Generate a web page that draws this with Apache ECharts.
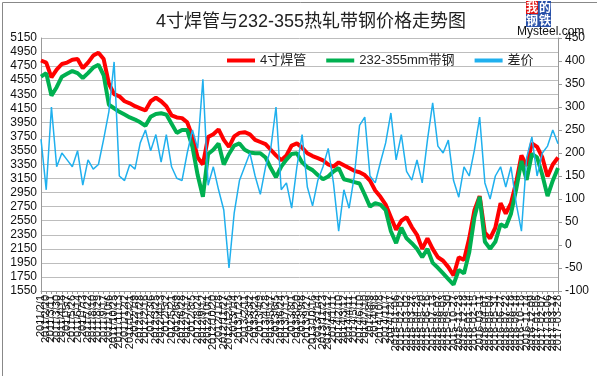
<!DOCTYPE html>
<html>
<head>
<meta charset="utf-8">
<title>4寸焊管与232-355热轧带钢价格走势图</title>
<script src="https://cdn.jsdelivr.net/npm/echarts@6/dist/echarts.min.js"></script>
<style>
  html, body { margin: 0; padding: 0; background: #fff; }
  #chart { width: 597px; height: 376px; }
</style>
</head>
<body>
<div id="chart"></div>
<script>
// 日期（类目轴）
const dates = [
  '2011/2/1', '2011/2/20', '2011/3/11', '2011/3/30', '2011/4/18', '2011/5/7', '2011/5/26', '2011/6/14', '2011/7/3', '2011/7/22',
  '2011/8/10', '2011/8/29', '2011/9/17', '2011/10/6', '2011/10/25', '2011/11/13', '2011/12/2', '2011/12/21', '2012/1/9', '2012/1/28',
  '2012/2/16', '2012/3/6', '2012/3/25', '2012/4/13', '2012/5/2', '2012/5/21', '2012/6/9', '2012/6/28', '2012/7/17', '2012/8/5',
  '2012/8/24', '2012/9/12', '2012/10/1', '2012/10/20', '2012/11/8', '2012/11/27', '2012/12/16', '2013/1/4', '2013/1/23', '2013/2/11',
  '2013/3/2', '2013/3/21', '2013/4/9', '2013/4/28', '2013/5/17', '2013/6/5', '2013/6/24', '2013/7/13', '2013/8/1', '2013/8/20',
  '2013/9/8', '2013/9/27', '2013/10/16', '2013/11/4', '2013/11/23', '2013/12/12', '2014/1/11', '2014/2/10', '2014/3/12', '2014/4/11',
  '2014/5/11', '2014/6/10', '2014/7/10', '2014/8/9', '2014/9/8', '2014/10/8', '2014/11/7', '2014/12/7', '2015-01-06', '2015-02-02',
  '2015-03-02', '2015-03-27', '2015-04-23', '2015-05-20', '2015-06-16', '2015-07-13', '2015-08-07', '2015-09-03', '2015-09-30', '2015-10-27',
  '2015-11-23', '2015-12-18', '2016-01-14', '2016-02-15', '2016-03-11', '2016-04-07', '2016-05-04', '2016-05-31', '2016-06-27', '2016-07-22',
  '2016-08-18', '2016-09-14', '2016-10-18', '2016-11-14', '2016-12-09', '2017-01-05', '2017-02-07', '2017-03-06', '2017-03-17', '2017-03-28'
]

// 4寸焊管
const weldedPipe = [
  4830, 4800, 4590, 4700, 4780, 4800, 4840, 4850, 4720, 4800,
  4900, 4940, 4850, 4500, 4350, 4320, 4250, 4220, 4180, 4150,
  4120, 4250, 4300, 4250, 4180, 4050, 4020, 4010, 3950, 3750,
  3450, 3350, 3740, 3780, 3850, 3700, 3600, 3750, 3800, 3810,
  3780, 3700, 3670, 3640, 3560, 3480, 3410, 3480, 3620, 3650,
  3590, 3510, 3470, 3440, 3410, 3350, 3320, 3380, 3340, 3300,
  3260, 3240, 3200, 3120, 2980, 2890, 2780, 2600, 2420, 2550,
  2600, 2460, 2350, 2150, 2300, 2150, 2030, 1980, 1890, 1770,
  2030, 1990, 2300, 2700, 2900, 2380, 2300, 2450, 2800, 2650,
  2800, 3100, 3480, 3330, 3650, 3600, 3450, 3180, 3350, 3450
]

// 232-355mm带钢
const stripSteel = [
  4600, 4650, 4330, 4450, 4600, 4640, 4680, 4650, 4580, 4650,
  4730, 4770, 4620, 4200, 4150, 4100, 4060, 4020, 3990, 3950,
  3900, 4030, 4070, 4080, 4060, 3930, 3800, 3840, 3840, 3600,
  3200, 2890, 3500, 3560, 3650, 3350, 3500, 3620, 3650, 3560,
  3520, 3510, 3510, 3450, 3300, 3170, 3320, 3420, 3500, 3510,
  3380, 3310, 3270, 3200, 3140, 3180, 3250, 3300, 3140, 3120,
  3100, 3080, 2920, 2750, 2800, 2780, 2700, 2400, 2230, 2450,
  2300, 2230, 2150, 2030, 2150, 1950, 1880, 1800, 1720, 1640,
  1850, 1800, 2100, 2600, 2890, 2250, 2150, 2250, 2500, 2460,
  2650, 3000, 3400, 3130, 3500, 3450, 3200, 2900, 3120, 3300
]

// 差价（右轴）
const spread = [
  230, 120, 300, 170, 200, 185, 170, 205, 130, 185,
  165, 175, 230, 290, 398, 150, 140, 175, 165, 222,
  250, 205, 240, 180, 240, 170, 145, 140, 200, 250,
  210, 360, 130, 170, 120, 76, -50, 70, 140, 170,
  200, 150, 110, 170, 210, 300, 120, 135, 80, 170,
  240, 126, 85, 140, 170, 210, 135, 30, 120, 80,
  150, 260, 278, 150, 135, 180, 222, 287, 185, 240,
  160, 141, 185, 135, 228, 309, 215, 200, 228, 140,
  104, 170, 150, 207, 278, 135, 100, 150, 170, 126,
  170, 90, 30, 190, 235, 150, 200, 215, 250, 220
]

const font = "'Liberation Sans', 'Noto Sans CJK SC', sans-serif"

const chart = echarts.init(document.getElementById('chart'))

const option = {
  backgroundColor: '#fff',
  animation: false,
  textStyle: { fontFamily: font },
  title: {
    text: '4寸焊管与232-355热轧带钢价格走势图',
    left: 306,
    textAlign: 'center',
    top: 8,
    textStyle: { fontSize: 18, fontWeight: 'normal', color: '#222', fontFamily: font }
  },
  legend: {
    left: 222,
    top: 49,
    itemWidth: 28,
    itemHeight: 4,
    itemGap: 20,
    icon: 'rect',
    textStyle: { fontSize: 13, color: '#222', fontFamily: font },
    data: ['4寸焊管', '232-355mm带钢', '差价']
  },
  grid: {
    left: 41,
    right: 39,
    top: 38,
    bottom: 85
  },
  xAxis: {
    type: 'category',
    data: dates,
    boundaryGap: false,
    axisLine: { onZero: false, lineStyle: { color: '#999' } },
    axisTick: { show: true, interval: 0, length: 3, lineStyle: { color: '#999' } },
    axisLabel: {
      interval: 0,
      rotate: 90,
      fontSize: 11,
      color: '#111',
      margin: 4,
      hideOverlap: false
    },
    splitLine: { show: false }
  },
  yAxis: [
    {
      type: 'value',
      min: 1550,
      max: 5150,
      interval: 200,
      axisLine: { show: true, lineStyle: { color: '#999' } },
      axisTick: { show: false },
      axisLabel: { fontSize: 12, color: '#111', margin: 4, formatter: v => String(v) },
      splitLine: { lineStyle: { color: '#bdbdbd', width: 1 } }
    },
    {
      type: 'value',
      min: -100,
      max: 450,
      interval: 50,
      axisLine: { show: true, lineStyle: { color: '#999' } },
      axisTick: { show: true, length: 4, lineStyle: { color: '#999' } },
      axisLabel: { fontSize: 12, color: '#111', margin: 7, formatter: v => String(v) },
      splitLine: { show: false }
    }
  ],
  series: [
    {
      name: '4寸焊管',
      type: 'line',
      data: weldedPipe,
      showSymbol: false,
      color: '#ff0000',
      lineStyle: { width: 4, color: '#ff0000' }
    },
    {
      name: '232-355mm带钢',
      type: 'line',
      data: stripSteel,
      showSymbol: false,
      color: '#00b050',
      lineStyle: { width: 4, color: '#00b050' }
    },
    {
      name: '差价',
      type: 'line',
      yAxisIndex: 1,
      data: spread,
      showSymbol: false,
      color: '#1fb0ee',
      lineStyle: { width: 1.5, color: '#1fb0ee' }
    }
  ],
  // 右上角 logo 和外框
  graphic: [
    { type: 'rect', left: 0, top: 0, shape: { width: 596, height: 375 }, style: { fill: 'none', stroke: '#888', lineWidth: 1 }, silent: true },
    { type: 'rect', left: 526, top: 1, shape: { width: 12, height: 13 }, style: { fill: '#e01010' } },
    { type: 'rect', left: 538, top: 1, shape: { width: 13, height: 13 }, style: { fill: '#2850a8' } },
    { type: 'rect', left: 526, top: 14, shape: { width: 25, height: 13 }, style: { fill: '#2850a8' } },
    { type: 'text', left: 526, top: 1, style: { text: '我', fill: '#fff', font: 'bold 12px "Noto Sans CJK SC"' } },
    { type: 'text', left: 539, top: 1, style: { text: '的', fill: '#fff', font: 'bold 12px "Noto Sans CJK SC"' } },
    { type: 'text', left: 526, top: 14, style: { text: '钢', fill: '#fff', font: 'bold 12px "Noto Sans CJK SC"' } },
    { type: 'text', left: 539, top: 14, style: { text: '铁', fill: '#fff', font: 'bold 12px "Noto Sans CJK SC"' } },
    { type: 'text', left: 517, top: 26, z: 100, style: { text: 'Mysteel.com', fill: '#111', font: '12px "Liberation Sans"' } }
  ]
}

chart.setOption(option)
</script>
</body>
</html>
